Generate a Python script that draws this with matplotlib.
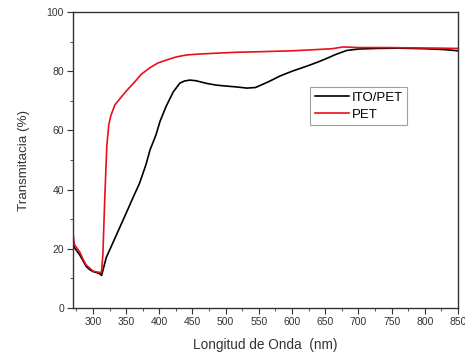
import matplotlib
matplotlib.use("Agg")
import matplotlib.pyplot as plt
from matplotlib.ticker import MultipleLocator

plt.rcParams['font.family'] = ['Liberation Sans', 'DejaVu Sans']

# ITO/PET transmittance
ito_wl = [270, 272, 275, 280, 285, 290, 295, 300, 305, 310, 313, 316, 320, 330, 341, 350, 361, 370,
          380, 386, 395, 401, 410, 421, 431, 438, 446, 455, 471, 486, 500, 516, 532, 545, 552,
          565, 582, 600, 627, 640, 652, 665, 682, 700, 727, 760, 800, 830, 850]
ito_t = [22.0, 20.5, 19.5, 18.0, 16.0, 14.0, 13.0, 12.3, 12.0, 11.6, 11.0, 13.5, 17.0, 22.0, 27.5,
         32.0, 37.6, 42.0, 48.5, 53.4, 58.5, 63.0, 68.0, 73.0, 76.0, 76.7, 77.0, 76.8, 75.9, 75.3,
         75.0, 74.7, 74.3, 74.5, 75.2, 76.5, 78.4, 80.0, 82.1, 83.2, 84.3, 85.6, 87.0, 87.5, 87.7,
         87.8, 87.6, 87.3, 86.9]

# PET transmittance
pet_wl = [270, 272, 275, 280, 285, 290, 295, 300, 305, 310, 313, 315, 318, 321, 324, 327, 333,
          341, 351, 361, 373, 386, 398, 411, 425, 441, 460, 486, 516, 552, 600, 627, 660, 677,
          700, 740, 780, 820, 850]
pet_t = [25.3, 21.5, 20.5, 19.0, 16.5, 14.5, 13.5, 12.5, 12.2, 12.0, 12.2, 18.0, 38.0, 55.0, 62.0,
         65.0, 68.6, 70.8, 73.5, 75.9, 79.0, 81.2, 82.8, 83.8, 84.8, 85.5, 85.8, 86.1, 86.4, 86.6,
         86.9, 87.2, 87.6, 88.2, 88.0, 88.0, 87.9, 87.8, 87.7]

xticks = [300, 350, 400, 450, 500, 550, 600, 650, 700, 750, 800, 850]
yticks = [0, 20, 40, 60, 80, 100]

fig = plt.figure(figsize=(4.65, 3.54), dpi=100)
ax = fig.add_axes([0.157, 0.130, 0.828, 0.836])

ax.plot(ito_wl, ito_t, color='black', lw=1.2, label='ITO/PET')
ax.plot(pet_wl, pet_t, color='#e8101a', lw=1.2, label='PET')

ax.set_xlim(270, 850)
ax.set_ylim(0, 100)
ax.set_xticks(xticks)
ax.set_yticks(yticks)
ax.xaxis.set_minor_locator(MultipleLocator(25))
ax.yaxis.set_minor_locator(MultipleLocator(10))
ax.tick_params(axis='both', which='major', direction='out', length=4, pad=2.5, labelsize=7.5,
               colors='#333333', labelcolor='#333333')
ax.tick_params(axis='both', which='minor', direction='out', length=2.5, colors='#333333')
ax.tick_params(top=False, right=False)
for s in ax.spines.values():
    s.set_color('#333333')
    s.set_linewidth(1.0)

ax.set_xlabel('Longitud de Onda  (nm)', fontsize=9.8, color='#333333', labelpad=8)
ax.set_ylabel('Transmitacia (%)', fontsize=9.6, color='#333333', labelpad=12)

leg = ax.legend(loc='upper left', bbox_to_anchor=(0.616, 0.747), fontsize=9.5, frameon=True,
                fancybox=False, edgecolor='#888888', handlelength=2.6, handletextpad=0.2,
                borderpad=0.35, labelspacing=0.35, borderaxespad=0)
leg.get_frame().set_linewidth(0.8)

fig.savefig('out.png', dpi=100)
